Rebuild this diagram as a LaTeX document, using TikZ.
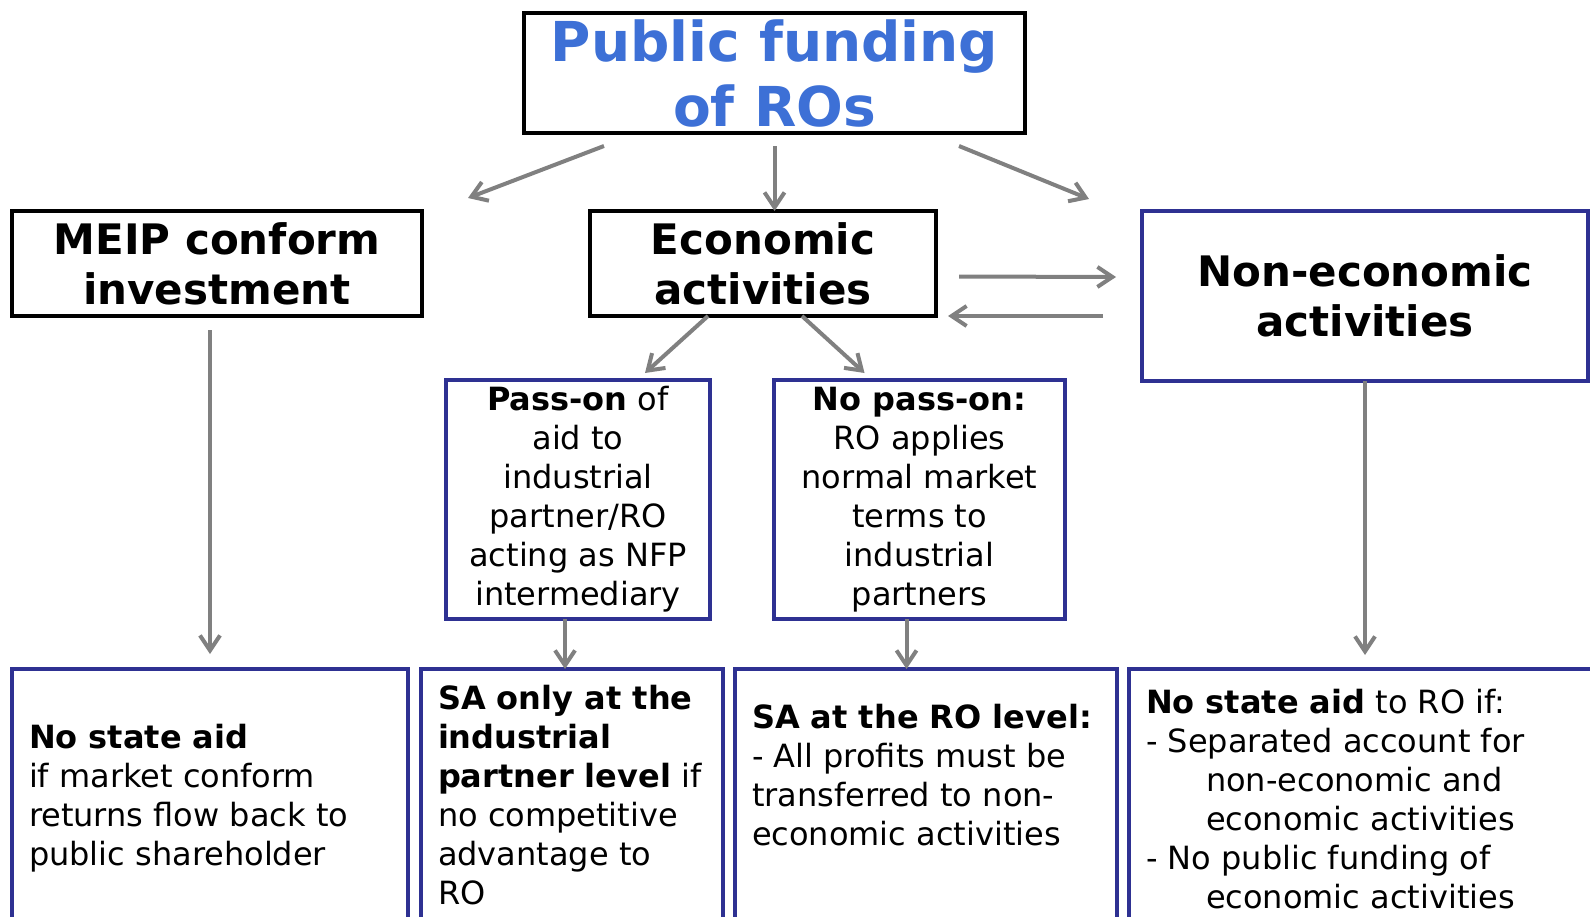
\documentclass[tikz,border=0pt]{standalone}
\usepackage{fontspec}
\setmainfont{DejaVu Sans}
\usetikzlibrary{arrows.meta,calc}
\definecolor{titleblue}{RGB}{61,112,214}
\definecolor{boxnavy}{RGB}{46,49,146}
\definecolor{arrowgray}{RGB}{128,128,128}
\tikzset{
  headbox/.style={draw=black,line width=1.6pt,inner sep=2pt,outer sep=0pt,align=center,font=\fontsize{21pt}{25pt}\selectfont\bfseries},
  casebox/.style={draw=boxnavy,line width=1.6pt,inner sep=2pt,outer sep=0pt,align=center,font=\fontsize{16pt}{19.5pt}\selectfont},
  outcome/.style={draw=boxnavy,line width=1.6pt,anchor=north west,inner xsep=8.5pt,inner ysep=0pt,outer sep=0pt,font=\fontsize{16pt}{19.5pt}\selectfont},
  flow/.style={draw=arrowgray,line width=2pt,-{Straight Barb[length=7.5pt,width=10pt]}}
}
\newcommand{\outtext}[3]{\parbox[t][150pt][t]{#1}{\raggedright\vspace*{#2}#3}}
\begin{document}
\begin{tikzpicture}[x=0.5pt,y=-0.5pt]
    \useasboundingbox (0,0) rectangle (1590,916);
    \clip (0,0) rectangle (1590,916);
    \node[headbox,text=titleblue,minimum width=250.5pt,minimum height=60pt,font=\fontsize{27.5pt}{32.5pt}\selectfont\bfseries] (title) at (774.5,73) {Public funding\\of ROs};
    \node[headbox,minimum width=205pt,minimum height=52.5pt] (meip) at (217,263.5) {MEIP conform\\investment};
    \node[headbox,minimum width=173pt,minimum height=52.5pt] (econ) at (763,263.5) {Economic\\activities};
    \node[headbox,draw=boxnavy,minimum width=223pt,minimum height=85pt] (noneco) at (1365,296) {Non-economic\\activities};
    \node[casebox,minimum width=132pt,minimum height=119.5pt] (pass) at (578,499.5) {\textbf{Pass-on} of\\aid to\\industrial\\partner/RO\\acting as NFP\\intermediary};
    \node[casebox,minimum width=145.5pt,minimum height=119.5pt] (nopass) at (919.5,499.5) {\textbf{No pass-on:}\\RO applies\\normal market\\terms to\\industrial\\partners};
    \node[outcome] (b1) at (12,669) {\outtext{181pt}{27.5pt}{\textbf{No state aid}\\if market conform\\returns flow back to\\public shareholder}};
    \node[outcome] (b2) at (421,669) {\outtext{134pt}{8pt}{\textbf{SA only at the}\\\textbf{industrial}\\\textbf{partner level} if\\no competitive\\advantage to\\RO}};
    \node[outcome] (b3) at (735,669) {\outtext{174pt}{17.5pt}{\textbf{SA at the RO level:}\\- All profits must be\\transferred to non-\\economic activities}};
    \node[outcome] (b4) at (1129,669) {\outtext{228.5pt}{10pt}{\textbf{No state aid} to RO if:\\- Separated account for\\\hspace*{30pt}non-economic and\\\hspace*{30pt}economic activities\\- No public funding of\\\hspace*{30pt}economic activities}};
    \draw[flow] ($(title.south west)+(80,13)$) -- ($(meip.north east)+(46,-13)$);
    \draw[flow] ($(title.south)+(0,13)$) -- (title.south |- econ.north);
    \draw[flow] ($(title.south east)+(-66,13)$) -- ($(noneco.north west)+(-53,-12)$);
    \draw[flow] ($(econ.east)+(23,13)$) -- ($(noneco.west)+(-26,-19)$);
    \draw[flow] ($(noneco.west)+(-39,20)$) -- ($(econ.south east)+(12,0)$);
    \draw[flow] ($(econ.south)+(-55,0)$) -- ($(pass.north)+(67,-7)$);
    \draw[flow] ($(econ.south)+(39,0)$) -- ($(nopass.north)+(-55,-7)$);
    \draw[flow] ($(meip.south)+(-7,14)$) -- ($(b1.north)+(0,-15)$);
    \draw[flow] ($(pass.south)+(-13,0)$) -- ($(b2.north)+(-7,0)$);
    \draw[flow] ($(nopass.south)+(-13,0)$) -- ($(b3.north)+(-19.5,0)$);
    \draw[flow] (noneco.south) -- ($(noneco.south |- b4.north)+(0,-14)$);
\end{tikzpicture}
\end{document}
